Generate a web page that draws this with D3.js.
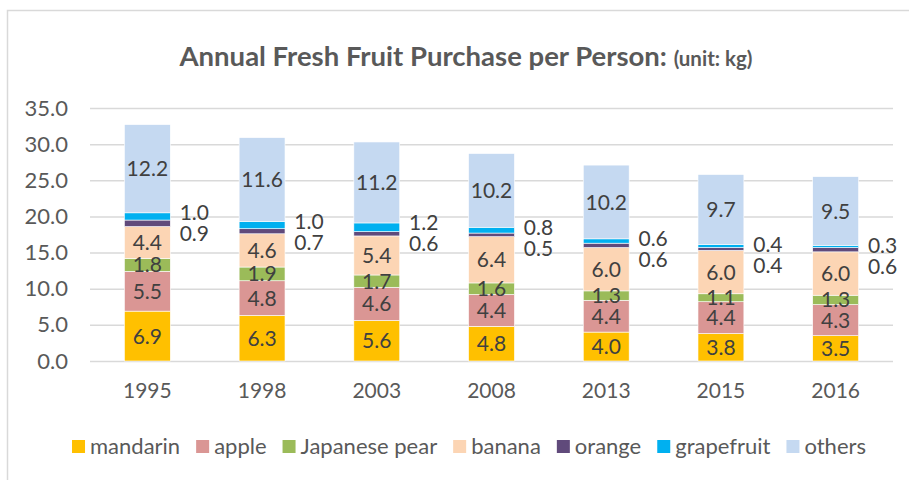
<!DOCTYPE html>
<html>
<head>
<meta charset="utf-8">
<script src="https://cdn.jsdelivr.net/npm/d3@7"></script>
<style>
	body { margin: 0; background: #fff; }
	svg { display: block; font-family: Lato, "Open Sans", sans-serif; }
</style>
</head>
<body>
<div id="chart"></div>
<script>
var years = ["1995", "1998", "2003", "2008", "2013", "2015", "2016"],
	fruits = ["mandarin", "apple", "Japanese pear", "banana", "orange", "grapefruit", "others"],
	mandarin = [6.9, 6.3, 5.6, 4.8, 4.0, 3.8, 3.5],
	apple = [5.5, 4.8, 4.6, 4.4, 4.4, 4.4, 4.3],
	pear = [1.8, 1.9, 1.7, 1.6, 1.3, 1.1, 1.3],
	banana = [4.4, 4.6, 5.4, 6.4, 6.0, 6.0, 6.0],
	orange = [0.9, 0.7, 0.6, 0.5, 0.6, 0.4, 0.6],
	grapefruit = [1.0, 1.0, 1.2, 0.8, 0.6, 0.4, 0.3],
	others = [12.2, 11.6, 11.2, 10.2, 10.2, 9.7, 9.5],
	yTicks = [0, 5, 10, 15, 20, 25, 30, 35];

var series = [mandarin, apple, pear, banana, orange, grapefruit, others];
var colors = ["#FFC000", "#DA9694", "#9BBB59", "#FCD5B4", "#604A7B", "#00B0F0", "#C5D9F1"];

var width = 909, height = 480;

var rows = years.map(function(y, i){
	var r = {year: y};
	fruits.forEach(function(f, j){ r[f] = series[j][i]; });
	return r;
});

var svg = d3.select("#chart")
	.append("svg")
	.attr("width", width)
	.attr("height", height);

// chart area border
svg.append("rect")
	.attr("x", 7.5)
	.attr("y", 10.5)
	.attr("width", 940)
	.attr("height", 500)
	.attr("fill", "none")
	.attr("stroke", "#d9d9d9")
	.attr("stroke-width", 1.5);

var title = svg.append("text")
	.attr("x", 466)
	.attr("y", 66)
	.attr("text-anchor", "middle")
	.attr("fill", "#595959")
	.attr("font-weight", "bold");
title.append("tspan").attr("font-size", 27.5).text("Annual Fresh Fruit Purchase per Person: ");
title.append("tspan").attr("font-size", 20.5).text("(unit: kg)");

var x = d3.scaleBand()
	.domain(years)
	.range([90, 893])
	.paddingInner(0.6)
	.paddingOuter(0.3);

var y = d3.scaleLinear()
	.domain([0, 35])
	.range([361, 108]);

// gridlines
svg.append("g")
	.attr("transform", "translate(90,0)")
	.call(d3.axisLeft(y).tickValues(yTicks).tickSize(-803).tickFormat(""))
	.call(function(g){
		g.select(".domain").remove();
		g.selectAll("line").attr("stroke", "#d9d9d9").attr("stroke-width", 1.5);
	});

svg.append("g")
	.attr("transform", "translate(68,0)")
	.call(d3.axisLeft(y).tickValues(yTicks).tickSize(0).tickPadding(0).tickFormat(d3.format(".1f")))
	.call(function(g){
		g.select(".domain").remove();
		g.selectAll("text").attr("font-size", 22).attr("fill", "#595959").attr("font-family", "Lato");
	});

svg.append("g")
	.attr("transform", "translate(0,361)")
	.call(d3.axisBottom(x).tickSize(0).tickPadding(22))
	.call(function(g){
		g.select(".domain").remove();
		g.selectAll("text").attr("font-size", 21).attr("fill", "#595959").attr("font-family", "Lato");
	});

var stacked = d3.stack().keys(fruits)(rows);

var layers = svg.append("g")
	.selectAll("g")
	.data(stacked)
	.join("g")
	.attr("fill", function(d, i){ return colors[i]; });

layers.selectAll("rect")
	.data(function(d){ return d; })
	.join("rect")
	.attr("x", function(d){ return x(d.data.year); })
	.attr("y", function(d){ return y(d[1]); })
	.attr("width", x.bandwidth())
	.attr("height", function(d){ return y(d[0]) - y(d[1]); })
	.attr("stroke", "#fff")
	.attr("stroke-width", 0.6);

var labels = svg.append("g")
	.attr("font-size", 21)
	.attr("fill", "#404040")
	.attr("text-anchor", "middle");

stacked.forEach(function(layer, i){
	var key = fruits[i];
	layer.forEach(function(d){
		var v = d.data[key], lx, ly;
		if(key === "grapefruit"){
			lx = x(d.data.year) + x.bandwidth() + 24;
			ly = y(d[1]);
		} else if(key === "orange"){
			lx = x(d.data.year) + x.bandwidth() + 24;
			ly = y(d[1] + d.data.grapefruit) + 21;
		} else {
			lx = x(d.data.year) + x.bandwidth() / 2;
			ly = (y(d[0]) + y(d[1])) / 2;
		}
		labels.append("text")
			.attr("x", lx)
			.attr("y", ly)
			.attr("dy", "0.36em")
			.text(d3.format(".1f")(v));
	});
});

// legend
var legend = svg.append("g")
	.attr("transform", "translate(0,446)");

var items = legend.selectAll("g")
	.data(fruits)
	.join("g");

items.append("rect")
	.attr("y", -6)
	.attr("width", 13)
	.attr("height", 13)
	.attr("fill", function(d, i){ return colors[i]; });

items.append("text")
	.attr("x", 18)
	.attr("dy", "0.36em")
	.attr("font-size", 22)
	.attr("fill", "#595959")
	.text(function(d){ return d; });

var pos = 0, offsets = [];
items.each(function(){
	offsets.push(pos);
	pos += 18 + d3.select(this).select("text").node().getComputedTextLength() + 16;
});
var total = pos - 16, start = 469 - total / 2;
items.attr("transform", function(d, i){ return "translate(" + (start + offsets[i]) + ",0)"; });
</script>
</body>
</html>
